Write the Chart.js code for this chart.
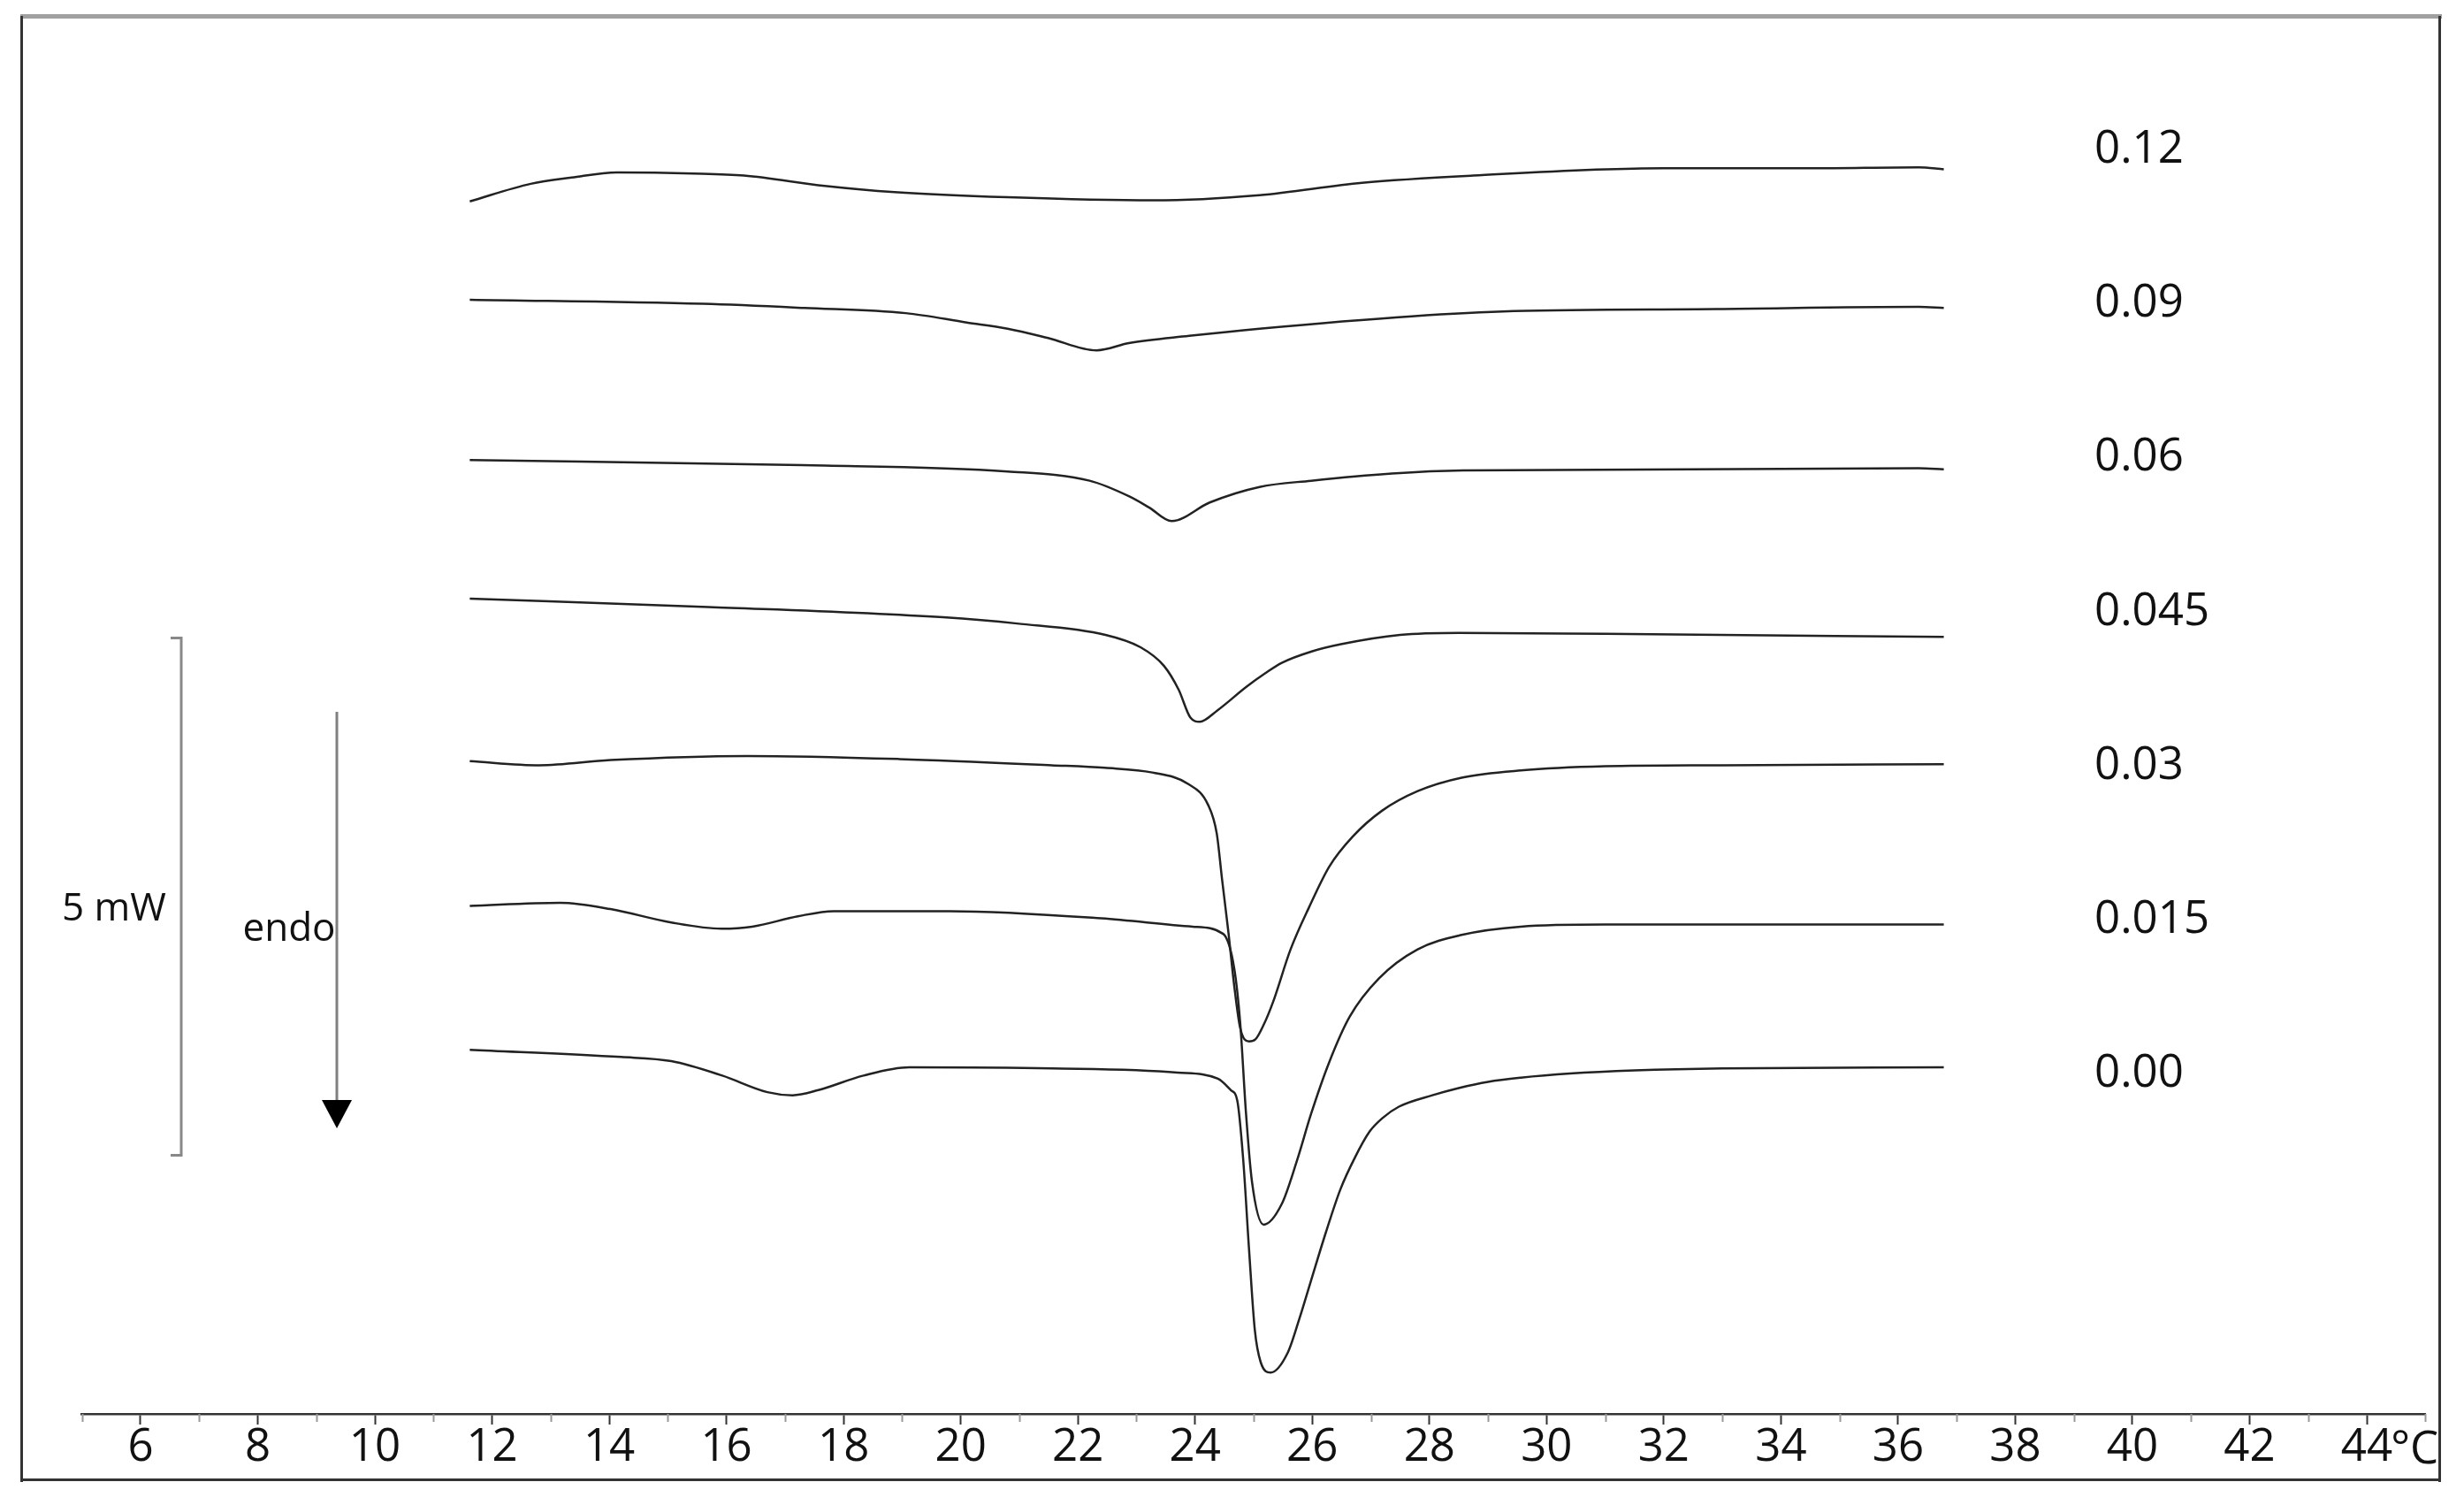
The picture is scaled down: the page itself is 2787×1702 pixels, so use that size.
<!DOCTYPE html>
<html>
<head>
    <title>DSC thermograms</title>
    <script src="https://cdn.jsdelivr.net/npm/chart.js"></script>
    <style>
        body { margin: 0; background: #fff; }
        canvas { display: block; }
    </style>
</head>
<body>
    <canvas id="dscChart" width="2787" height="1702"></canvas>

    <script>
        // curve labels, top to bottom
        const concs = ['0.12', '0.09', '0.06', '0.045', '0.03', '0.015', '0.00'];

        // temperature (°C) and heat flow (mW, stacked offset)
        const t012 = [11.62, 12.66, 13.36, 14.13, 15.43, 16.3, 17.68, 18.87, 20.8, 23.29, 25.1, 26.85, 28.75, 32.0, 34.5, 36.35, 36.78];
        const hf012 = [11.72, 11.89, 11.95, 12.0, 11.99, 11.97, 11.87, 11.81, 11.76, 11.73, 11.78, 11.9, 11.97, 12.04, 12.04, 12.05, 12.03];

        const t009 = [11.62, 15.6, 17.33, 19.06, 20.1, 20.8, 21.49, 22.32, 22.87, 23.9, 25.1, 27.7, 29.44, 32.9, 36.35, 36.78];
        const hf009 = [10.77, 10.73, 10.69, 10.64, 10.55, 10.49, 10.40, 10.28, 10.35, 10.42, 10.49, 10.61, 10.66, 10.68, 10.70, 10.69];

        const t006 = [11.62, 17.3, 20.8, 22.2, 22.87, 23.22, 23.6, 24.25, 25.1, 25.98, 27.36, 28.57, 36.35, 36.78];
        const hf006 = [9.22, 9.17, 9.11, 9.02, 8.87, 8.76, 8.63, 8.81, 8.96, 9.02, 9.09, 9.12, 9.14, 9.13];

        const t0045 = [11.62, 15.69, 19.7, 20.96, 22.47, 23.07, 23.47, 23.72, 23.92, 24.08, 24.38, 24.88, 25.2, 25.48, 25.99, 26.49, 27.5, 28.5, 31.0, 36.78];
        const hf0045 = [7.88, 7.80, 7.70, 7.64, 7.53, 7.41, 7.23, 7.0, 6.73, 6.69, 6.80, 7.03, 7.16, 7.26, 7.37, 7.44, 7.53, 7.55, 7.54, 7.51];

        const t003 = [11.62, 12.81, 14.02, 16.36, 18.95, 21.55, 22.46, 23.27, 23.88, 24.22, 24.37, 24.46, 24.57, 24.67, 24.77, 24.92, 25.03, 25.17, 25.33, 25.63, 25.94, 26.29, 26.69, 27.19, 27.8, 28.55, 29.56, 31.0, 33.0, 36.78];
        const hf003 = [6.31, 6.27, 6.32, 6.36, 6.33, 6.27, 6.245, 6.20, 6.09, 5.89, 5.61, 5.17, 4.65, 4.13, 3.73, 3.60, 3.62, 3.76, 3.98, 4.49, 4.89, 5.29, 5.58, 5.83, 6.02, 6.15, 6.22, 6.26, 6.27, 6.28];

        const t0015 = [11.62, 13.16, 14.02, 15.06, 15.92, 16.44, 17.22, 17.83, 19.81, 22.40, 23.96, 24.48, 24.67, 24.77, 24.87, 24.97, 25.17, 25.48, 25.74, 25.98, 26.29, 26.64, 27.14, 27.8, 28.55, 29.56, 31.0, 33.0, 36.78];
        const hf0015 = [4.91, 4.94, 4.88, 4.75, 4.69, 4.71, 4.81, 4.86, 4.86, 4.79, 4.71, 4.64, 4.30, 3.78, 2.90, 2.25, 1.83, 2.03, 2.45, 2.90, 3.40, 3.84, 4.21, 4.49, 4.63, 4.71, 4.73, 4.73, 4.73];

        const t000 = [11.62, 14.2, 15.06, 15.93, 16.7, 17.13, 17.57, 18.34, 19.12, 21.55, 23.7, 24.39, 24.61, 24.72, 24.82, 24.92, 25.02, 25.12, 25.29, 25.58, 25.78, 25.98, 26.23, 26.48, 26.73, 26.98, 27.2, 27.48, 28.05, 28.5, 29.0, 29.56, 30.4, 31.5, 33.0, 36.78];
        const hf000 = [3.52, 3.45, 3.41, 3.27, 3.11, 3.08, 3.13, 3.27, 3.35, 3.34, 3.30, 3.24, 3.13, 3.03, 2.47, 1.60, 0.81, 0.50, 0.40, 0.59, 0.92, 1.29, 1.75, 2.17, 2.48, 2.73, 2.86, 2.97, 3.08, 3.15, 3.21, 3.25, 3.29, 3.32, 3.34, 3.35];

        const temps = [t012, t009, t006, t0045, t003, t0015, t000];
        const flows = [hf012, hf009, hf006, hf0045, hf003, hf0015, hf000];

        const FONT = '"Open Sans", sans-serif';

        const decor = {
            id: 'decor',
            afterDraw(chart) {
                const c = chart.ctx;
                const xs = chart.scales.x;
                const ys = chart.scales.y;
                const axisY = chart.chartArea.bottom;
                c.save();

                // minor ticks on odd degrees
                c.strokeStyle = '#999';
                c.lineWidth = 2;
                for (let v = 5; v <= 45; v += 2) {
                    const px = Math.round(xs.getPixelForValue(v)) + 0.5;
                    c.beginPath();
                    c.moveTo(px, axisY);
                    c.lineTo(px, axisY + 9);
                    c.stroke();
                }

                // unit after the last tick label
                c.fillStyle = '#111';
                c.font = '51px ' + FONT;
                c.textBaseline = 'alphabetic';
                c.textAlign = 'left';
                const w44 = c.measureText('44').width;
                c.fillText('°C', xs.getPixelForValue(44) + w44 / 2 - 2, 1655);

                // concentration labels
                concs.forEach((lab, i) => {
                    c.fillText(lab, 2369, 184 + i * 174.2);
                });

                // 5 mW scale bar
                const barTop = ys.getPixelForValue(7.5);
                const barBot = ys.getPixelForValue(2.5);
                c.strokeStyle = '#888';
                c.lineWidth = 3;
                c.beginPath();
                c.moveTo(193, barTop);
                c.lineTo(205, barTop);
                c.lineTo(205, barBot);
                c.lineTo(193, barBot);
                c.stroke();
                c.font = '44px ' + FONT;
                c.textAlign = 'center';
                c.fillText('5 mW', 129, 1041);

                // endo arrow
                c.strokeStyle = '#808080';
                c.lineWidth = 3;
                c.beginPath();
                c.moveTo(381, 805);
                c.lineTo(381, 1246);
                c.stroke();
                c.fillStyle = '#000';
                c.beginPath();
                c.moveTo(364, 1244);
                c.lineTo(398, 1244);
                c.lineTo(381, 1276);
                c.closePath();
                c.fill();
                c.fillStyle = '#111';
                c.fillText('endo', 327, 1064);

                // frame
                c.fillStyle = '#a0a0a0';
                c.fillRect(23, 16, 2739, 5);
                c.fillStyle = '#333';
                c.fillRect(23, 18, 3, 1658);
                c.fillRect(2758, 18, 3, 1658);
                c.fillRect(23, 1672, 2738, 3);
                c.restore();
            }
        };

        const ctx = document.getElementById('dscChart').getContext('2d');
        new Chart(ctx, {
            type: 'line',
            data: {
                datasets: temps.map((t, i) => ({
                    label: concs[i],
                    data: t.map((x, j) => ({ x: x, y: flows[i][j] })),
                    borderColor: '#222',
                    borderWidth: 2.5,
                    pointRadius: 0,
                    fill: false,
                    cubicInterpolationMode: 'monotone'
                }))
            },
            options: {
                responsive: false,
                animation: false,
                devicePixelRatio: 1,
                layout: { padding: { left: 92.7, right: 43.7, top: 19.5, bottom: 0 } },
                plugins: {
                    legend: { display: false },
                    tooltip: { enabled: false }
                },
                scales: {
                    x: {
                        type: 'linear',
                        min: 5,
                        max: 45,
                        afterFit: s => { s.height = 103; },
                        border: { display: true, color: '#333', width: 2.5 },
                        grid: {
                            drawOnChartArea: false,
                            drawTicks: true,
                            tickLength: 12,
                            tickWidth: 2,
                            tickColor: c => (c.tick && c.tick.value % 2 === 0) ? '#333' : 'rgba(0,0,0,0)'
                        },
                        ticks: {
                            stepSize: 1,
                            autoSkip: false,
                            maxRotation: 0,
                            padding: 0.5,
                            color: '#111',
                            font: { family: FONT, size: 51, lineHeight: 1 },
                            callback: v => (v % 2 === 0 && v >= 6 && v <= 44) ? String(v) : ''
                        }
                    },
                    y: {
                        type: 'linear',
                        display: false,
                        min: 0,
                        max: 13.5
                    }
                }
            },
            plugins: [decor]
        });
    </script>
</body>
</html>
